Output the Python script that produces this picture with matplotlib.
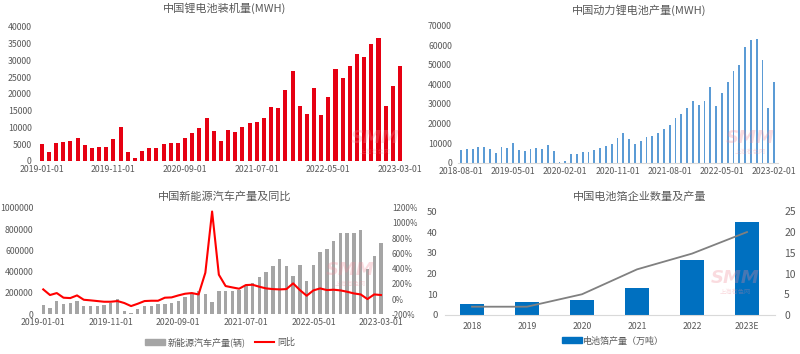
import matplotlib
matplotlib.use("Agg")
import matplotlib.pyplot as plt
import pandas as pd
from matplotlib.patches import Patch
from matplotlib.lines import Line2D

plt.rcParams['font.family'] = ['Noto Sans CJK SC', 'DejaVu Sans']

# ---- data ----
# 中国锂电池装机量(MWH), 2019-01 .. 2023-03
install_months = pd.date_range("2019-01-01", "2023-03-01", freq="MS").strftime("%Y-%m-%d")
install_mwh = [5200, 2800, 5300, 5700, 5900, 6900, 4900, 3800, 4300, 4300, 6700, 10000,
               2600, 900, 3000, 4000, 3900, 5000, 5300, 5400, 6900, 8300, 9700, 12800,
               9000, 5900, 9300, 8700, 10000, 11400, 11600, 12900, 16000, 15700, 21100, 26700,
               16500, 14000, 21800, 13600, 19000, 27300, 24600, 28200, 32000, 31000, 34700, 36500,
               16500, 22300, 28200]

# 中国动力锂电池产量(MWH), 2018-08 .. 2023-02
prod_months = pd.date_range("2018-08-01", "2023-02-01", freq="MS").strftime("%Y-%m-%d")
prod_mwh = [6500, 7000, 7200, 8100, 7900, 6800, 5100, 8200, 7500, 10000, 6600, 6000,
            6800, 7600, 6900, 9200, 6100, 300, 850, 4700, 4700, 5300, 5500, 6300,
            7400, 8600, 9800, 12800, 15100, 12100, 9400, 11200, 13000, 13700, 15300, 17300,
            19400, 22800, 25100, 28100, 31400, 29500, 31700, 38800, 29000, 35600, 41000, 47000,
            50100, 58900, 62700, 63300, 52500, 28100, 41400]

# 中国新能源汽车产量及同比, 2019-01 .. 2023-03
nev_months = pd.date_range("2019-01-01", "2023-03-01", freq="MS").strftime("%Y-%m-%d")
nev_units = [86000, 56000, 125000, 98000, 107000, 128000, 80000, 80000, 82000, 91000, 106000, 142000,
             34000, 8000, 46000, 78000, 82000, 100000, 98000, 106000, 128000, 162000, 195000, 218000,
             190000, 120000, 215000, 214000, 214000, 230000, 267000, 298000, 347000, 400000, 456000, 515000,
             453000, 362000, 462000, 309000, 462000, 587000, 612000, 690000, 759000, 759000, 765000, 790000,
             422000, 550000, 672000]
nev_yoy = [127, 53, 79, 18, 13, 48, -9, -17, -26, -35, -35, -26,
           -52, -92, -61, -26, -22, -22, 18, 22, 48, 70, 79, 61,
           346, 1150, 320, 171, 153, 136, 184, 188, 162, 140, 131, 127,
           131, 206, 118, 44, 114, 140, 118, 123, 114, 96, 74, 61,
           0, 61, 53]

# 中国电池箔企业数量及产量
foil_years = ["2018", "2019", "2020", "2021", "2022", "2023E"]
foil_output = [5.1, 6.1, 7.0, 13, 26.3, 45]
foil_companies = [2, 2, 5, 11, 14.8, 20]

TXT = "#595959"
W, H = 800, 354
fig = plt.figure(figsize=(W / 100, H / 100), dpi=100)


def px_axes(left, right, top, bottom):
    return fig.add_axes([left / W, 1 - bottom / H, (right - left) / W, (bottom - top) / H])


def style(ax, baseline=False, size=6.3):
    for s in ax.spines.values():
        s.set_visible(False)
    if baseline:
        ax.spines['bottom'].set_visible(True)
        ax.spines['bottom'].set_color("#d9d9d9")
        ax.spines['bottom'].set_linewidth(0.8)
    ax.tick_params(length=0, labelsize=size, labelcolor=TXT)


def watermark(x, y):
    fig.text(x / W, 1 - y / H, "SMM", fontsize=13, fontweight="bold", fontstyle="italic",
             color="#f08a96", alpha=0.3, ha="center", va="center", family="DejaVu Sans")
    fig.text(x / W, 1 - (y + 14) / H, "上海有色网", fontsize=4.5, color="#f08a96", alpha=0.3,
             ha="center", va="center")


# ---- chart 1 ----
ax1 = px_axes(37.4, 404.3, 26.7, 161)
x1 = range(len(install_mwh))
ax1.bar(x1, install_mwh, width=0.56, color="#e60012")
ax1.set_xlim(-0.6, len(install_mwh) - 0.4)
ax1.set_ylim(0, 40000)
ax1.set_yticks(range(0, 40001, 5000))
ax1.set_xticks(range(0, len(install_mwh), 10))
ax1.set_xticklabels([install_months[i] for i in range(0, len(install_mwh), 10)])
style(ax1)
ax1.tick_params(axis='y', pad=4)
ax1.tick_params(axis='x', pad=3)
fig.text(225 / W, 1 - 8 / H, "中国锂电池装机量(MWH)", fontsize=8, color=TXT, ha="center", va="center")
watermark(375, 138)

# ---- chart 2 ----
ax2 = px_axes(457.5, 777.5, 25.7, 162.7)
x2 = range(len(prod_mwh))
ax2.bar(x2, prod_mwh, width=0.32, color="#5b9bd5")
ax2.set_xlim(-0.6, len(prod_mwh) - 0.4)
ax2.set_ylim(0, 70000)
ax2.set_yticks(range(0, 70001, 10000))
ax2.set_xticks(range(0, len(prod_mwh), 9))
ax2.set_xticklabels([prod_months[i] for i in range(0, len(prod_mwh), 9)])
style(ax2, baseline=True)
ax2.tick_params(axis='y', pad=4)
ax2.tick_params(axis='x', pad=3)
fig.text(639 / W, 1 - 10 / H, "中国动力锂电池产量(MWH)", fontsize=8, color=TXT, ha="center", va="center")
watermark(750, 138)

# ---- chart 3 ----
ax3 = px_axes(39.2, 385, 207.7, 314.3)
x3 = range(len(nev_units))
ax3.bar(x3, nev_units, width=0.5, color="#a5a5a5")
ax3.set_xlim(-0.6, len(nev_units) - 0.4)
ax3.set_ylim(0, 1000000)
ax3.set_yticks(range(0, 1000001, 200000))
ax3.set_yticklabels([str(v) for v in range(0, 1000001, 200000)])
ax3.set_xticks(range(0, len(nev_units), 10))
ax3.set_xticklabels([nev_months[i] for i in range(0, len(nev_units), 10)])
style(ax3)
ax3.tick_params(axis='y', pad=4)
ax3.tick_params(axis='x', pad=3)
ax3b = ax3.twinx()
ax3b.plot(x3, nev_yoy, color="#ff0000", lw=1.5)
ax3b.set_ylim(-200, 1200)
ax3b.set_yticks(range(-200, 1201, 200))
ax3b.set_yticklabels([f"{v}%" for v in range(-200, 1201, 200)])
style(ax3b, size=5.8)
ax3b.tick_params(axis='y', pad=5)
fig.text(225 / W, 1 - 196 / H, "中国新能源汽车产量及同比", fontsize=8, color=TXT, ha="center", va="center")
fig.legend(handles=[Patch(color="#a5a5a5", label="新能源汽车产量(辆)"),
                    Line2D([], [], color="#ff0000", lw=1.5, label="同比")],
           loc="center", bbox_to_anchor=(220 / W, 1 - 342 / H), ncol=2, frameon=False,
           fontsize=6.5, labelcolor=TXT, handlelength=2.2, handleheight=0.6,
           columnspacing=1.0, handletextpad=0.3)
watermark(350, 270)

# ---- chart 4 ----
ax4 = px_axes(444.5, 774.5, 211.3, 315)
x4 = range(len(foil_years))
ax4.bar(x4, foil_output, width=0.42, color="#0070c0")
ax4.set_xlim(-0.5, len(foil_years) - 0.5)
ax4.set_ylim(0, 50)
ax4.set_yticks(range(0, 51, 10))
ax4.set_xticks(list(x4))
ax4.set_xticklabels(foil_years)
style(ax4, baseline=True, size=6.8)
ax4.tick_params(axis='y', pad=5)
ax4.tick_params(axis='x', pad=5, labelsize=6.3)
ax4b = ax4.twinx()
ax4b.plot(x4, foil_companies, color="#808080", lw=1.3)
ax4b.set_ylim(0, 25)
ax4b.set_yticks(range(0, 26, 5))
style(ax4b, size=7.5)
ax4b.tick_params(axis='y', pad=7)
fig.text(640 / W, 1 - 197 / H, "中国电池箔企业数量及产量", fontsize=8, color=TXT, ha="center", va="center")
fig.legend(handles=[Patch(color="#0070c0", label="电池箔产量（万吨）")],
           loc="center", bbox_to_anchor=(613 / W, 1 - 341 / H), frameon=False,
           fontsize=6.5, labelcolor=TXT, handlelength=2.2, handleheight=0.6, handletextpad=0.2)
watermark(735, 278)

fig.savefig("out.png", dpi=100)
